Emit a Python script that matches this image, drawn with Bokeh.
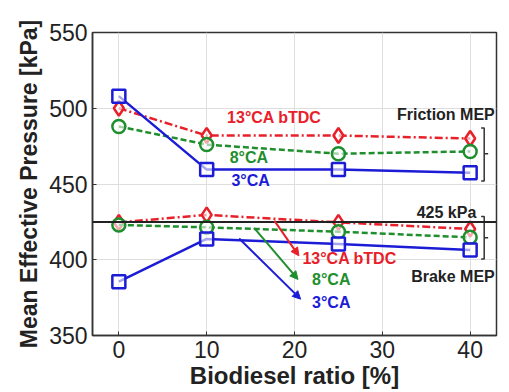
from bokeh.plotting import figure
from bokeh.models import Range1d, Arrow, NormalHead, FixedTicker, Label, Span
from bokeh.embed import file_html
from bokeh.resources import INLINE

# ---- data ----
ratio = [0, 10, 25, 40]
fric_13 = [500, 482, 482, 480]
fric_8 = [488, 476, 470, 471.5]
fric_3 = [508, 459.5, 459.5, 457.5]
brake_13 = [424.7, 429.6, 424.7, 420.3]
brake_8 = [423, 421.4, 418.5, 414.8]
brake_3 = [385.5, 413.7, 410.4, 406.4]
ref_level = 425
x_ticks = [0, 10, 20, 30, 40]
y_ticks = [350, 400, 450, 500, 550]

RED = "#e8202a"
GREEN = "#1f8f2e"
BLUE = "#1c1cd6"
FONT = "Liberation Sans"

p = figure(width=509, height=392, output_backend="svg", toolbar_location=None,
           x_range=Range1d(-3, 43), y_range=Range1d(350, 550),
           min_border_left=92, min_border_right=13, min_border_top=32, min_border_bottom=57)
p.outline_line_color = "#333333"
p.outline_line_width = 1.5
p.background_fill_color = "white"
p.border_fill_color = "white"

for ax in (p.xaxis[0], p.yaxis[0]):
    ax.major_label_text_font = FONT
    ax.major_label_text_font_size = "23px"
    ax.major_label_text_color = "#222222"
    ax.axis_label_text_font = FONT
    ax.axis_label_text_font_style = "bold"
    ax.axis_label_text_color = "#222222"
    ax.axis_line_color = "#333333"
    ax.axis_line_width = 1.5
    ax.major_tick_in = 4
    ax.major_tick_out = 0
    ax.major_tick_line_color = "#333333"
    ax.minor_tick_line_color = None

p.xaxis[0].axis_label_text_font_size = "24px"
p.yaxis[0].axis_label_text_font_size = "23px"
p.xaxis[0].ticker = FixedTicker(ticks=x_ticks)
p.yaxis[0].ticker = FixedTicker(ticks=y_ticks)
p.xaxis[0].axis_label = "Biodiesel ratio [%]"
p.yaxis[0].axis_label = "Mean Effective Pressure [kPa]"
p.xaxis[0].major_label_standoff = 5
p.xaxis[0].axis_label_standoff = 1
p.yaxis[0].major_label_standoff = 5
p.yaxis[0].axis_label_standoff = 4

p.grid.grid_line_color = "#dedede"
p.grid.grid_line_width = 1
p.xgrid.ticker = FixedTicker(ticks=x_ticks)
p.ygrid.ticker = FixedTicker(ticks=y_ticks)

# reference line
p.add_layout(Span(location=ref_level, dimension="width", line_color="#222222", line_width=2))

series = [
    (fric_13, RED, "diamond", "8 3 2 3", 15),
    (fric_8, GREEN, "circle", "6 3", 13),
    (fric_3, BLUE, "square", "solid", 13),
    (brake_13, RED, "diamond", "8 3 2 3", 15),
    (brake_8, GREEN, "circle", "6 3", 13),
    (brake_3, BLUE, "square", "solid", 13),
]
for ys, c, m, dash, sz in series:
    p.line(ratio, ys, line_color=c, line_width=2.5, line_dash=dash)
    p.scatter(ratio, ys, marker=m, size=sz, line_color=c, line_width=2.5,
              fill_color="white", fill_alpha=0.6)

# arrows (brake MEP labels)
arrows = [
    (17.7, 425.8, 20.5, 402.6, RED),
    (15.4, 421.0, 20.4, 387.0, GREEN),
    (13.7, 414.0, 20.7, 374.0, BLUE),
]
for xs, ys, xe, ye, c in arrows:
    p.add_layout(Arrow(end=NormalHead(size=8, fill_color=c, line_color=c),
                       x_start=xs, y_start=ys, x_end=xe, y_end=ye,
                       line_color=c, line_width=2))

def lab(x, y, t, c, size="16px", align="center"):
    p.add_layout(Label(x=x, y=y, text=t, text_color=c, text_font=FONT,
                       text_font_size=size, text_font_style="bold",
                       text_align=align, text_baseline="middle"))

lab(17.7, 494, "13°CA bTDC", RED)
lab(14.8, 467.5, "8°CA", GREEN)
lab(15.0, 452, "3°CA", BLUE)
lab(20.9, 400.5, "13°CA bTDC", RED, align="left")
lab(22.0, 387, "8°CA", GREEN, align="left")
lab(22.0, 371.5, "3°CA", BLUE, align="left")
lab(42.8, 496, "Friction MEP", "#222222", align="right")
lab(42.8, 389, "Brake MEP", "#222222", align="right")
lab(40.7, 431, "425 kPa", "#222222", align="right")

# brackets
brackets = [(452, 487, 470), (400.5, 428.5, 414.5)]
bx = 41.6
for lo, hi, mid in brackets:
    p.line([bx - 0.35, bx, bx, bx - 0.35], [hi, hi, lo, lo], line_color="#333333", line_width=1.5)
    p.line([bx, bx + 0.45], [mid, mid], line_color="#333333", line_width=1.5)

open("out.html", "w").write(file_html(p, INLINE))
